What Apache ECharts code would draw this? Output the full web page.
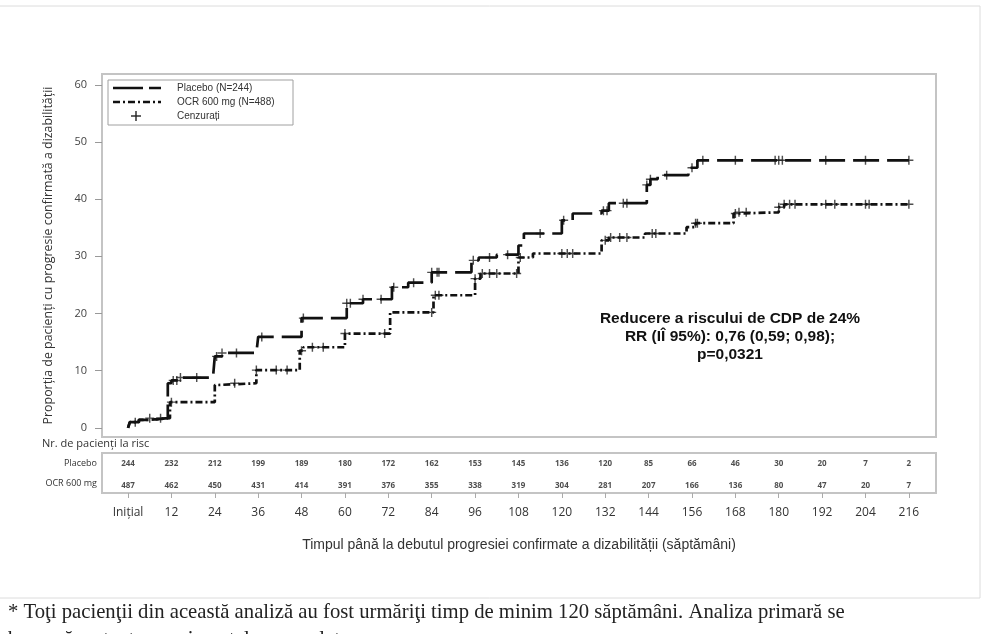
<!DOCTYPE html>
<html>
<head>
<meta charset="utf-8">
<script src="https://cdn.jsdelivr.net/npm/echarts@6/dist/echarts.min.js"></script>
<style>
  html, body { margin: 0; padding: 0; background: #fff; }
  #chart { width: 988px; height: 634px; }
</style>
</head>
<body>
<div id="chart"></div>
<script>
// step curves (weeks, cumulative % with CDP)
const placeboWeeks = [0, 0.5, 3, 6, 11, 12, 14, 23.5, 24, 26, 35.5, 36, 48, 59.5, 60.5, 65, 72, 73, 77.5, 84, 95, 97, 102, 108, 109.5, 120, 123, 131, 133, 143.5, 144.5, 146.5, 155, 157.5, 216];
const placeboValues = [0, 1.0, 1.4, 1.7, 7.8, 8.3, 8.8, 8.8, 12.5, 13.1, 13.1, 15.9, 19.2, 19.2, 21.8, 22.5, 22.5, 24.6, 25.4, 27.2, 29.3, 29.8, 30.3, 31.9, 34.0, 36.3, 37.5, 38.0, 39.3, 42.5, 43.5, 44.2, 45.5, 46.8, 46.8];

const ocrWeeks = [0, 0.5, 3, 6, 11.6, 24, 25, 35.5, 47.5, 48.5, 60, 72.5, 84.5, 96, 97.5, 108, 112, 131, 133, 143, 154.5, 157, 167.5, 169, 180, 181.5, 216];
const ocrValues = [0, 1.0, 1.4, 1.7, 4.5, 7.5, 7.8, 10.1, 13.5, 14.1, 16.5, 20.2, 23.2, 26.1, 27.0, 29.8, 30.5, 32.8, 33.3, 34.0, 35.1, 35.8, 37.5, 37.7, 38.6, 39.1, 39.1];

// censored observations (weeks)
const placeboCensor = [2, 6, 9, 12.5, 13.5, 14.5, 19, 24.5, 26, 30, 37, 48.5, 60.5, 61.5, 65, 70, 73.5, 79, 84, 85.5, 86, 95.5, 100, 105, 114, 120.5, 131.5, 132.5, 137, 138, 143.5, 144.5, 149, 156, 159, 168, 179, 180, 181, 193, 204, 216];
const ocrCensor = [12, 29.5, 35.5, 41, 44, 48, 51, 54, 60, 71, 84, 85, 86, 96, 98, 100, 102, 107.5, 108.5, 120, 121.5, 123, 132, 133.5, 136, 138, 145, 146, 157, 157.5, 168, 169, 171, 180, 181.5, 183, 184.5, 193, 195.5, 204, 205, 216];

// risk table
const riskWeeks = [0, 12, 24, 36, 48, 60, 72, 84, 96, 108, 120, 132, 144, 156, 168, 180, 192, 204, 216];
const placeboRisk = [244, 232, 212, 199, 189, 180, 172, 162, 153, 145, 136, 120, 85, 66, 46, 30, 20, 7, 2];
const ocrRisk = [487, 462, 450, 431, 414, 391, 376, 355, 338, 319, 304, 281, 207, 166, 136, 80, 47, 20, 7];

const yTicks = [0, 10, 20, 30, 40, 50, 60];

function stepAt(weeks, values, w) {
  let v = values[0];
  for (let i = 0; i < weeks.length; i++) {
    if (weeks[i] <= w) v = values[i];
  }
  return v;
}

const plusPath = 'path://M4.2,0H5.8V4.2H10V5.8H5.8V10H4.2V5.8H0V4.2H4.2Z';
const font = '"Liberation Sans", Arial, sans-serif';
const tickFont = '"Open Sans", "Noto Sans", sans-serif';
const placeboDash = [26, 8];
const ocrDash = [7, 3, 2, 3];
const legendFont = '10px "Liberation Sans", Arial, sans-serif';

const chart = echarts.init(document.getElementById('chart'));

const option = {
  animation: false,
  backgroundColor: '#fff',
  textStyle: { fontFamily: font },
  grid: [
    { left: 102, right: 52, top: 74, bottom: 197, show: true, borderColor: '#c4c4c4', borderWidth: 2 },
    { left: 102, right: 52, top: 453, bottom: 141, show: true, borderColor: '#c4c4c4', borderWidth: 2 }
  ],
  xAxis: [
    {
      gridIndex: 0, type: 'value', min: -7.2, max: 223.5,
      axisLine: { show: false, onZero: false }, axisTick: { show: false }, axisLabel: { show: false }, splitLine: { show: false }
    },
    {
      gridIndex: 1, type: 'value', min: -7.2, max: 223.5,
      axisLine: { show: true, onZero: false, lineStyle: { color: '#c4c4c4', width: 2 } },
      axisTick: { show: true, customValues: riskWeeks, length: 5, lineStyle: { color: '#aaa' } },
      axisLabel: {
        customValues: riskWeeks, margin: 14, fontSize: 12, color: '#333', fontFamily: tickFont,
        formatter: v => (v === 0 ? 'Inițial' : String(v))
      },
      splitLine: { show: false },
      name: 'Timpul până la debutul progresiei confirmate a dizabilității (săptămâni)',
      nameLocation: 'middle',
      nameGap: 45,
      nameTextStyle: { fontSize: 14, color: '#333', fontFamily: font }
    }
  ],
  yAxis: [
    {
      gridIndex: 0, type: 'value', min: -1.6, max: 61.9,
      axisLine: { show: false, onZero: false },
      axisTick: { show: true, inside: false, customValues: yTicks, length: 7, lineStyle: { color: '#999' } },
      axisLabel: { customValues: yTicks, margin: 15, fontSize: 11, color: '#444', fontFamily: tickFont },
      splitLine: { show: false },
      name: 'Proporția de pacienți cu progresie confirmată a dizabilității',
      nameLocation: 'middle',
      nameGap: 48,
      nameTextStyle: { fontSize: 12.4, color: '#333', fontFamily: tickFont }
    },
    {
      gridIndex: 1, type: 'category', inverse: true,
      data: ['Placebo', 'OCR 600 mg'],
      axisLine: { show: false, onZero: false }, axisTick: { show: false },
      axisLabel: { fontSize: 9, color: '#333', margin: 5, fontFamily: tickFont }
    }
  ],
  series: [
    {
      name: 'Placebo (N=244)',
      type: 'line',
      step: 'end',
      showSymbol: false,
      symbol: 'none',
      xAxisIndex: 0, yAxisIndex: 0,
      lineStyle: { color: '#111', width: 2.7, type: placeboDash },
      data: placeboWeeks.map((w, i) => [w, placeboValues[i]])
    },
    {
      name: 'OCR 600 mg (N=488)',
      type: 'line',
      step: 'end',
      showSymbol: false,
      symbol: 'none',
      xAxisIndex: 0, yAxisIndex: 0,
      lineStyle: { color: '#111', width: 2.7, type: ocrDash },
      data: ocrWeeks.map((w, i) => [w, ocrValues[i]])
    },
    {
      name: 'Cenzurați',
      type: 'scatter',
      symbol: plusPath,
      symbolSize: 9,
      xAxisIndex: 0, yAxisIndex: 0,
      clip: false,
      itemStyle: { color: '#222' },
      data: placeboCensor.map(w => [w, stepAt(placeboWeeks, placeboValues, w)])
    },
    {
      name: 'Cenzurați',
      type: 'scatter',
      symbol: plusPath,
      symbolSize: 9,
      xAxisIndex: 0, yAxisIndex: 0,
      clip: false,
      itemStyle: { color: '#222' },
      data: ocrCensor.map(w => [w, stepAt(ocrWeeks, ocrValues, w)])
    },
    {
      type: 'scatter',
      xAxisIndex: 1, yAxisIndex: 1,
      symbolSize: 1,
      itemStyle: { color: 'rgba(0,0,0,0)' },
      label: {
        show: true, position: 'inside', offset: [0, 1],
        fontSize: 8, fontWeight: 'bold', color: '#222', fontFamily: tickFont,
        formatter: p => p.value[2]
      },
      data: riskWeeks.map((w, i) => [w, 'Placebo', placeboRisk[i]])
    },
    {
      type: 'scatter',
      xAxisIndex: 1, yAxisIndex: 1,
      symbolSize: 1,
      itemStyle: { color: 'rgba(0,0,0,0)' },
      label: {
        show: true, position: 'inside', offset: [0, 3],
        fontSize: 8, fontWeight: 'bold', color: '#222', fontFamily: tickFont,
        formatter: p => p.value[2]
      },
      data: riskWeeks.map((w, i) => [w, 'OCR 600 mg', ocrRisk[i]])
    }
  ],
  graphic: [
    {
      type: 'rect', silent: true, z: -1,
      shape: { x: -2, y: 6, width: 982, height: 592 },
      style: { fill: 'none', stroke: '#dcdcdc', lineWidth: 1 }
    },
    // legend
    {
      type: 'group', silent: true,
      children: [
        { type: 'rect', shape: { x: 108, y: 80, width: 185, height: 45 }, style: { fill: '#fff', stroke: '#a0a0a0', lineWidth: 1 } },
        { type: 'line', shape: { x1: 113, y1: 88, x2: 161, y2: 88 }, style: { stroke: '#111', lineWidth: 2.6, lineDash: [30, 6] } },
        { type: 'line', shape: { x1: 113, y1: 102, x2: 161, y2: 102 }, style: { stroke: '#111', lineWidth: 2.6, lineDash: ocrDash } },
        { type: 'line', shape: { x1: 136, y1: 111, x2: 136, y2: 121 }, style: { stroke: '#222', lineWidth: 1.4 } },
        { type: 'line', shape: { x1: 131, y1: 116, x2: 141, y2: 116 }, style: { stroke: '#222', lineWidth: 1.4 } },
        { type: 'text', x: 177, y: 88, style: { text: 'Placebo (N=244)', font: legendFont, fill: '#333', verticalAlign: 'middle' } },
        { type: 'text', x: 177, y: 102, style: { text: 'OCR 600 mg (N=488)', font: legendFont, fill: '#333', verticalAlign: 'middle' } },
        { type: 'text', x: 177, y: 116, style: { text: 'Cenzurați', font: legendFont, fill: '#333', verticalAlign: 'middle' } }
      ]
    },
    {
      type: 'text', silent: true,
      x: 730, y: 310,
      style: {
        text: 'Reducere a riscului de CDP de 24%\nRR (IÎ 95%): 0,76 (0,59; 0,98);\np=0,0321',
        align: 'center', font: 'bold 15.5px "Liberation Sans", Arial, sans-serif',
        lineHeight: 18, fill: '#111'
      }
    },
    {
      type: 'text', silent: true,
      x: 42, y: 438,
      style: { text: 'Nr. de pacienți la risc', font: '11px "Open Sans", sans-serif', fill: '#333' }
    },
    {
      type: 'text', silent: true,
      x: 8, y: 599,
      style: {
        text: '* Toţi pacienţii din această analiză au fost urmăriţi timp de minim 120 săptămâni. Analiza primară se\nbazează pe toate evenimentele acumulate.',
        font: '20.7px "Liberation Serif", "Times New Roman", serif', lineHeight: 27, fill: '#222'
      }
    }
  ]
};

chart.setOption(option);
</script>
</body>
</html>
